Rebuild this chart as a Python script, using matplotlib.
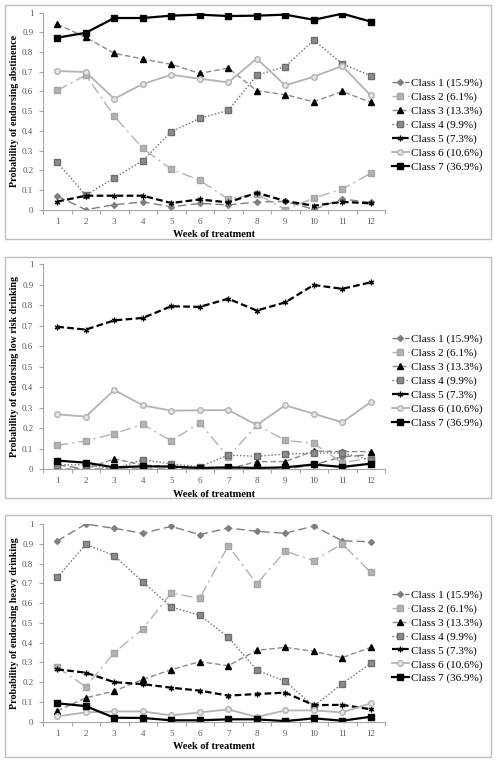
import numpy as np
import matplotlib
matplotlib.use('Agg')
from matplotlib import pyplot as plt
from matplotlib.patches import Rectangle

plt.rcParams['font.family'] = ['Liberation Serif', 'DejaVu Serif']

weeks = list(range(1, 13))
labels = ['Class 1 (15.9%)', 'Class 2 (6.1%)', 'Class 3 (13.3%)', 'Class 4 (9.9%)',
          'Class 5 (7.3%)', 'Class 6 (10.6%)', 'Class 7 (36.9%)']

# abstinence
abst_c1 = [0.069, 0.0, 0.025, 0.039, 0.015, 0.032, 0.024, 0.039, 0.042, 0.002, 0.054, 0.037]
abst_c2 = [0.606, 0.682, 0.475, 0.311, 0.206, 0.149, 0.054, 0.080, 0.0, 0.059, 0.105, 0.185]
abst_c3 = [0.942, 0.875, 0.794, 0.765, 0.738, 0.692, 0.719, 0.604, 0.584, 0.548, 0.600, 0.545]
abst_c4 = [0.240, 0.073, 0.161, 0.249, 0.396, 0.464, 0.504, 0.682, 0.726, 0.861, 0.740, 0.680]
abst_c5 = [0.041, 0.071, 0.071, 0.071, 0.034, 0.052, 0.037, 0.086, 0.044, 0.020, 0.040, 0.032]
abst_c6 = [0.704, 0.699, 0.563, 0.638, 0.685, 0.665, 0.646, 0.767, 0.631, 0.675, 0.730, 0.580]
abst_c7 = [0.873, 0.898, 0.973, 0.973, 0.985, 0.990, 0.983, 0.985, 0.990, 0.964, 0.995, 0.955]

# low risk drinking
low_c1 = [0.020, 0.0, 0.0, 0.0, 0.0, 0.0, 0.0, 0.0, 0.0, 0.020, 0.060, 0.070]
low_c2 = [0.116, 0.137, 0.173, 0.218, 0.138, 0.225, 0.058, 0.215, 0.140, 0.125, 0.030, 0.055]
low_c3 = [0.0, 0.0, 0.050, 0.020, 0.010, 0.0, 0.0, 0.036, 0.036, 0.088, 0.085, 0.085]
low_c4 = [0.020, 0.020, 0.0, 0.045, 0.025, 0.010, 0.068, 0.062, 0.073, 0.078, 0.078, 0.045]
low_c5 = [0.695, 0.681, 0.726, 0.738, 0.795, 0.792, 0.832, 0.774, 0.814, 0.899, 0.880, 0.912]
low_c6 = [0.267, 0.256, 0.386, 0.311, 0.285, 0.287, 0.288, 0.215, 0.311, 0.270, 0.228, 0.327]
low_c7 = [0.041, 0.031, 0.008, 0.013, 0.012, 0.005, 0.008, 0.005, 0.008, 0.022, 0.010, 0.026]

# heavy drinking
heavy_c1 = [0.914, 1.0, 0.978, 0.953, 0.988, 0.946, 0.980, 0.963, 0.953, 0.990, 0.915, 0.910]
heavy_c2 = [0.275, 0.177, 0.349, 0.469, 0.651, 0.624, 0.890, 0.698, 0.862, 0.815, 0.900, 0.755]
heavy_c3 = [0.054, 0.121, 0.155, 0.214, 0.263, 0.304, 0.283, 0.361, 0.376, 0.356, 0.324, 0.376]
heavy_c4 = [0.730, 0.897, 0.840, 0.707, 0.580, 0.538, 0.428, 0.261, 0.204, 0.079, 0.192, 0.295]
heavy_c5 = [0.265, 0.248, 0.200, 0.190, 0.172, 0.157, 0.132, 0.140, 0.147, 0.084, 0.085, 0.063]
heavy_c6 = [0.027, 0.047, 0.052, 0.052, 0.032, 0.047, 0.062, 0.024, 0.057, 0.057, 0.047, 0.093]
heavy_c7 = [0.093, 0.079, 0.020, 0.019, 0.007, 0.007, 0.012, 0.012, 0.003, 0.017, 0.005, 0.025]

panels = [
    ('Probability of endorsing abstinence',
     [abst_c1, abst_c2, abst_c3, abst_c4, abst_c5, abst_c6, abst_c7]),
    ('Probability of endorsing low risk drinking',
     [low_c1, low_c2, low_c3, low_c4, low_c5, low_c6, low_c7]),
    ('Probability of endorsing heavy drinking',
     [heavy_c1, heavy_c2, heavy_c3, heavy_c4, heavy_c5, heavy_c6, heavy_c7]),
]

# line / marker styles per class
styles = [
    dict(color='#7f7f7f', ls=(0, (6, 3)), lw=1.0, marker='D', ms=3, mfc='#7f7f7f', mec='#7f7f7f'),
    dict(color='#b3b3b3', ls=(0, (8, 3, 1.5, 3)), lw=1.0, marker='s', ms=4.8, mfc='#b3b3b3', mec='#a6a6a6'),
    dict(color='#8c8c8c', ls=(0, (4, 2)), lw=1.0, marker='^', ms=4, mfc='black', mec='black'),
    dict(color='#6e6e6e', ls=(0, (1, 1.5)), lw=1.0, marker='s', ms=4.3, mfc='#8c8c8c', mec='#6e6e6e'),
    dict(color='black', ls=(0, (3, 1.5)), lw=1.6, marker=(6, 2, 0), ms=4, mfc='black', mec='black', mew=0.9),
    dict(color='#b3b3b3', ls='-', lw=1.3, marker='o', ms=4, mfc='#e6e6e6', mec='#b3b3b3'),
    dict(color='black', ls='-', lw=1.6, marker='s', ms=3.8, mfc='black', mec='black'),
]

W, H = 496, 762
fig = plt.figure(figsize=(W / 100, H / 100), dpi=100)

# (axes top, axes bottom, border top, border bottom) in pixels
layout = [(12.7, 209.7, 5, 239), (264.3, 469, 257, 498), (524, 721.7, 515, 757)]
ax_left, ax_right = 43, 385

for (ylab, series), (at, ab, bt, bb) in zip(panels, layout):
    fig.add_artist(Rectangle((5 / W, 1 - bb / H), (491 - 5) / W, (bb - bt) / H,
                             transform=fig.transFigure, fill=False, ec='#bfbfbf', lw=1.0))
    ax = fig.add_axes([ax_left / W, 1 - ab / H, (ax_right - ax_left) / W, (ab - at) / H])
    for vals, lab, st in zip(series, labels, styles):
        ax.plot(weeks, vals, label=lab, **st)
    ax.set_xlim(0.5, 12.5)
    ax.set_ylim(0, 1)
    ax.set_yticks(np.arange(0, 1.01, 0.1))
    ax.set_yticklabels(['0', '0.1', '0.2', '0.3', '0.4', '0.5', '0.6', '0.7', '0.8', '0.9', '1'])
    ax.set_xticks(weeks)
    ax.set_xticks(np.arange(0.5, 13, 1), minor=True)
    ax.tick_params(axis='x', which='major', length=0, labelsize=6.5, pad=6, colors='#595959')
    ax.tick_params(axis='x', which='minor', length=3, color='#a6a6a6', width=0.8)
    ax.tick_params(axis='y', length=3, color='#a6a6a6', width=0.8, labelsize=6.5, pad=4,
                   labelcolor='#595959')
    for s in ['top', 'right']:
        ax.spines[s].set_visible(False)
    for s in ['left', 'bottom']:
        ax.spines[s].set_color('#a6a6a6')
        ax.spines[s].set_linewidth(0.8)
    ax.set_xlabel('Week of treatment', fontsize=7.5, fontweight='bold', labelpad=3)
    ax.set_ylabel(ylab, fontsize=7.2, fontweight='bold', labelpad=2)
    ax.legend(loc='center left', bbox_to_anchor=(1.02, 0.43), frameon=False, fontsize=8,
              handlelength=1.5, handletextpad=0.2, labelspacing=0.35, borderaxespad=0,
              borderpad=0)

plt.savefig('out.png', dpi=100)
